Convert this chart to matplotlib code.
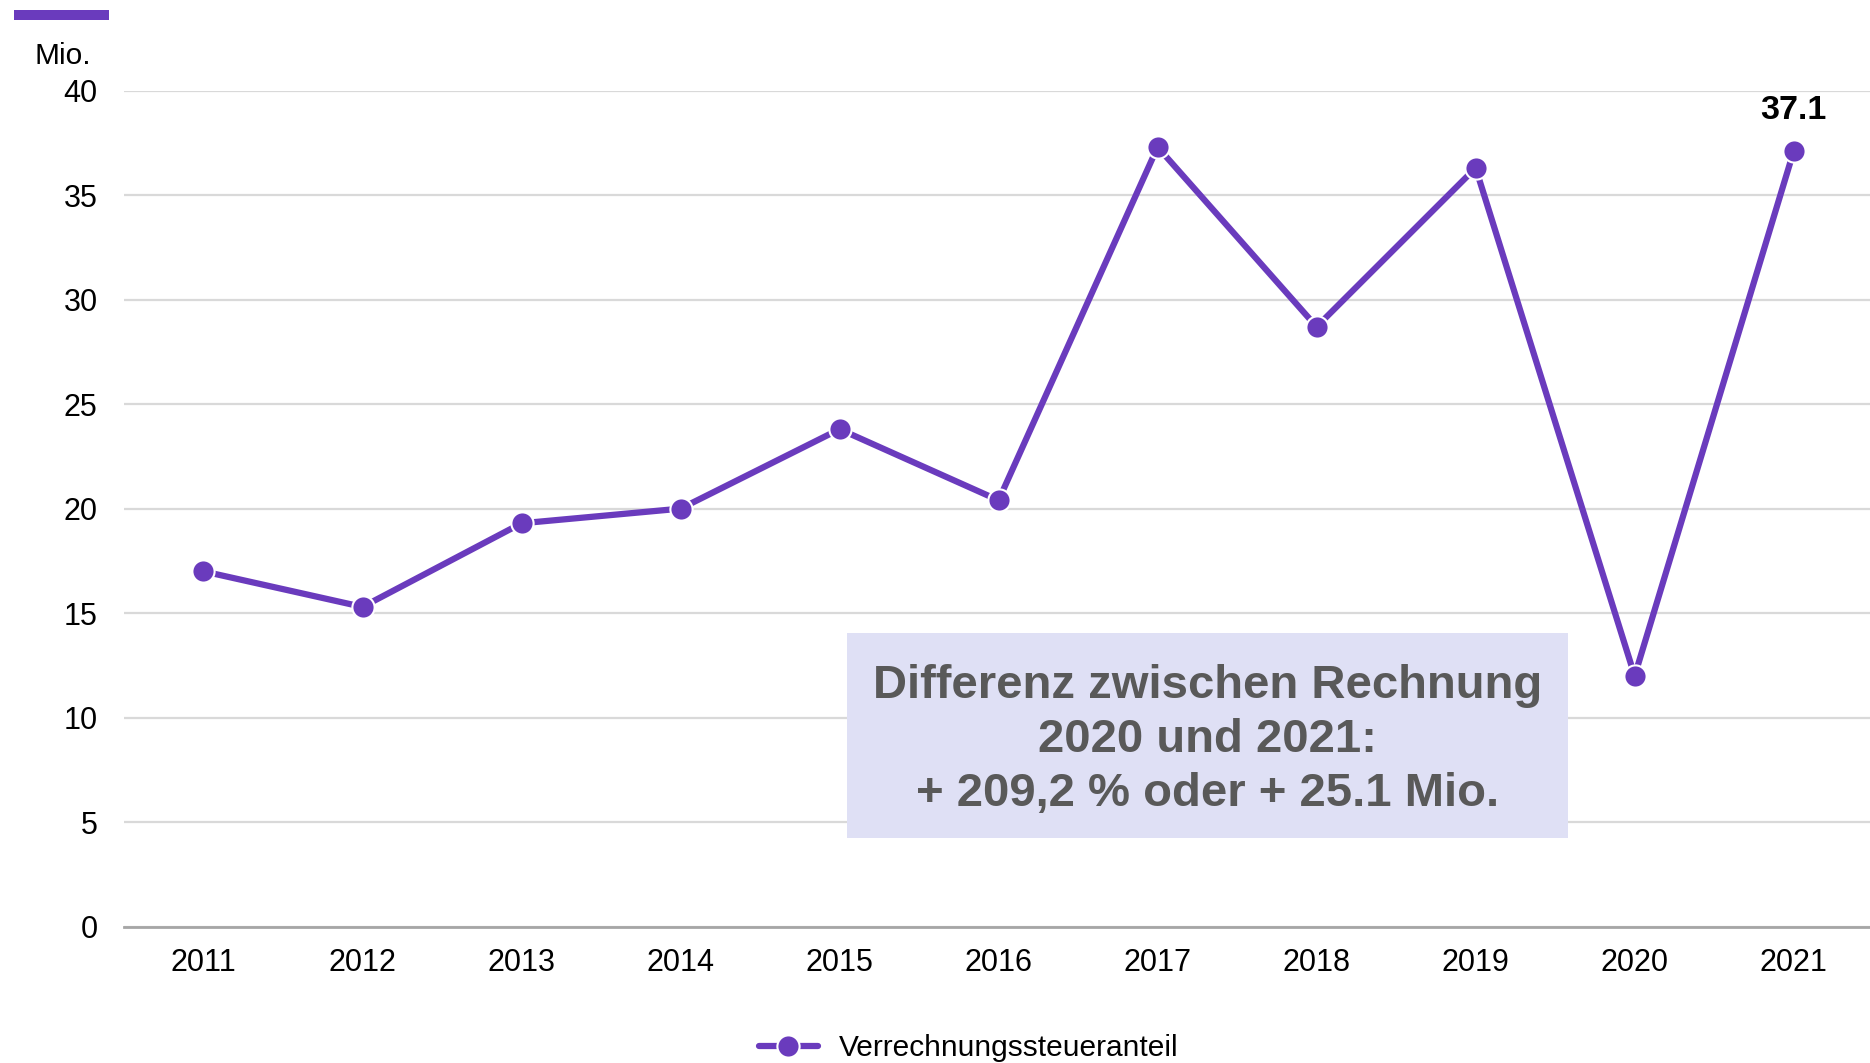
import matplotlib.pyplot as plt
from matplotlib.patches import Rectangle

plt.rcParams['font.family'] = ['Liberation Sans', 'DejaVu Sans']

years = ["2011", "2012", "2013", "2014", "2015", "2016", "2017", "2018", "2019", "2020", "2021"]
values = [17.0, 15.3, 19.3, 20.0, 23.8, 20.4, 37.3, 28.7, 36.3, 12.0, 37.1]
yticks = [0, 5, 10, 15, 20, 25, 30, 35, 40]
series_name = "Verrechnungssteueranteil"
note = "Differenz zwischen Rechnung\n2020 und 2021:\n+ 209,2 % oder + 25.1 Mio."

purple = "#6a3bbd"

fig = plt.figure(figsize=(18.7, 10.63), dpi=100)
ax = fig.add_axes([0.0663, 0.1282, 0.9337, 0.7866])

x = list(range(len(years)))
ax.plot(x, values, color=purple, lw=4.5, marker="o", ms=16,
        markerfacecolor=purple, markeredgecolor="white", markeredgewidth=1.5,
        label=series_name, zorder=3, solid_capstyle="round")

ax.set_xlim(-0.5, 10.48)
ax.set_ylim(0, 40)
ax.set_yticks(yticks)
ax.set_xticks(x)
ax.set_xticklabels(years)
ax.tick_params(axis="both", length=0, labelsize=22, colors="black")
ax.tick_params(axis="x", pad=15)
ax.tick_params(axis="y", pad=19)
ax.grid(axis="y", color="#d9d9d9", lw=1.6)
ax.set_axisbelow(True)
for s in ["top", "right", "left"]:
    ax.spines[s].set_visible(False)
ax.spines["bottom"].set_color("#a6a6a6")
ax.spines["bottom"].set_linewidth(2)

# last value label
ax.annotate(f"{values[-1]:.1f}", (x[-1], values[-1]), xytext=(0, 29),
            textcoords="offset points", ha="center", va="center",
            fontsize=24.5, fontweight="bold", color="black")

# annotation box
ax.add_patch(Rectangle((0.414, 0.106), 0.413, 0.245, transform=ax.transAxes,
                       facecolor="#dfe0f5", edgecolor="none", zorder=4))
ax.text(0.6205, 0.2235, note, transform=ax.transAxes, ha="center", va="center",
        fontsize=34, fontweight="bold", color="#595959", linespacing=1.3, zorder=5)

# unit + top accent bar
fig.text(63 / 1870, 1 - 56 / 1063, "Mio.", ha="center", va="center", fontsize=21.5)
fig.patches.append(Rectangle((14 / 1870, 1 - 20 / 1063), 95 / 1870, 10 / 1063,
                             transform=fig.transFigure, facecolor=purple,
                             edgecolor="none"))

fig.legend(loc="center", bbox_to_anchor=(0.518, 1 - 1048 / 1063), frameon=False,
           fontsize=21.5, handlelength=2.0, handletextpad=0.7)

fig.savefig("out.png", dpi=100)
